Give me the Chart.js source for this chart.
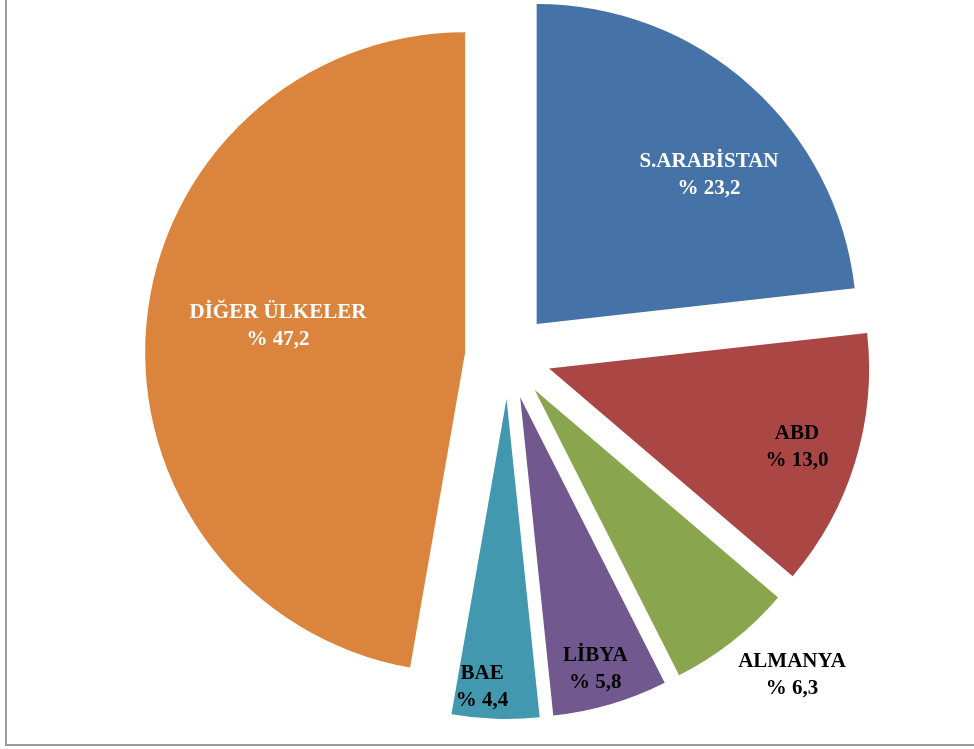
<!DOCTYPE html>
<html>
<head>
<meta charset="utf-8">
<script src="https://cdn.jsdelivr.net/npm/chart.js@4/dist/chart.umd.min.js"></script>
<style>
  html, body { margin: 0; padding: 0; background: #fff; }
  #wrap { position: relative; width: 974px; height: 749px; }
  #frame { position: absolute; left: 5px; top: -5px; width: 980px; height: 749px;
           border-left: 2px solid #9a9a9a; border-bottom: 2px solid #9a9a9a; pointer-events: none; }
  canvas { position: absolute; left: 0; top: 0; }
</style>
</head>
<body>
<div id="wrap">
  <canvas id="pie" width="974" height="749"></canvas>
  <div id="frame"></div>
</div>
<script>
// countries and their share (%)
var countries = ["S.ARABİSTAN", "ABD", "ALMANYA", "LİBYA", "BAE", "DİĞER ÜLKELER"];
var shares = [23.2, 13.0, 6.3, 5.8, 4.4, 47.2];
var shareLabels = ["% 23,2", "% 13,0", "% 6,3", "% 5,8", "% 4,4", "% 47,2"];

var sliceColors = ["#4572A7", "#AA4643", "#89A54E", "#71588F", "#4198AF", "#DB843D"];
var textColors = ["#ffffff", "#000000", "#000000", "#000000", "#000000", "#ffffff"];
// label centre, in units of the radius, from the pie centre
var labelSpots = [[0.628, -0.566], [0.903, 0.284], [0.8875, 0.997], [0.273, 0.978], [-0.081, 1.034], [-0.719, -0.094]];

var pieRadius = 320;
var explode = 172; // chart.js moves a slice by offset / 4

// chart.js grows small exploded slices (radius and angle); undo that so all slices keep one radius
var evenSlices = {
  id: "evenSlices",
  afterDatasetUpdate: function (chart, args) {
    args.meta.data.forEach(function (arc) {
      var shift = explode / 4;
      var ro = shift * (1 - Math.sin(Math.min(Math.PI, arc.circumference)));
      var da = ro / (2 * Math.PI * pieRadius);
      arc.outerRadius = pieRadius - ro;
      arc.startAngle -= da;
      arc.endAngle += da;
    });
  }
};

// draws the two-line labels on top of the slices
var sliceLabels = {
  id: "sliceLabels",
  afterDatasetsDraw: function (chart) {
    var arc = chart.getDatasetMeta(0).data[0];
    var cx = arc.x, cy = arc.y, r = pieRadius;
    var ctx = chart.ctx;
    ctx.save();
    ctx.font = "bold 21px 'Liberation Serif', serif";
    ctx.textAlign = "center";
    ctx.textBaseline = "middle";
    countries.forEach(function (name, i) {
      var x = cx + labelSpots[i][0] * r;
      var y = cy + labelSpots[i][1] * r;
      ctx.fillStyle = textColors[i];
      ctx.fillText(name, x, y - 13);
      ctx.fillText(shareLabels[i], x, y + 14);
    });
    ctx.restore();
  }
};

var ctx = document.getElementById("pie").getContext("2d");
new Chart(ctx, {
  type: "pie",
  data: {
    labels: countries,
    datasets: [{
      data: shares,
      backgroundColor: sliceColors,
      borderWidth: 0,
      offset: explode
    }]
  },
  options: {
    responsive: false,
    animation: false,
    radius: pieRadius,
    layout: { padding: { left: 42, right: 0, top: 0, bottom: 37 } },
    plugins: {
      legend: { display: false },
      tooltip: { enabled: false }
    }
  },
  plugins: [evenSlices, sliceLabels]
});
</script>
</body>
</html>
